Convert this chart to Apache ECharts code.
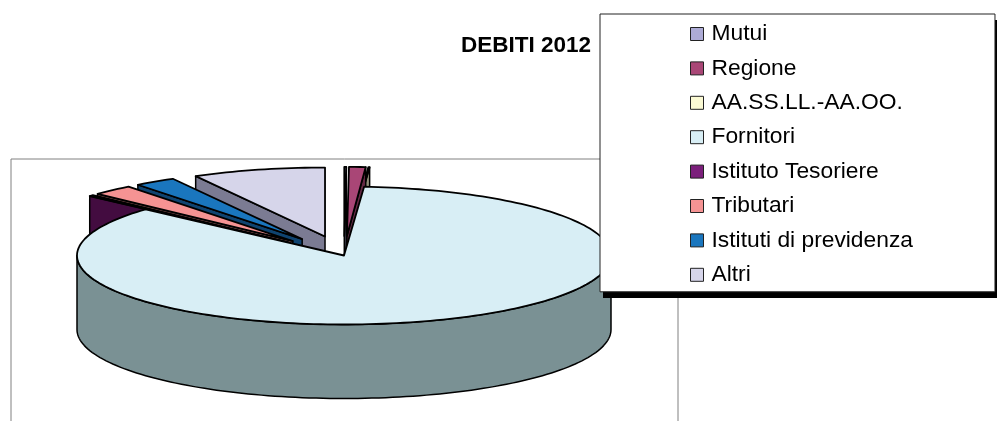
<!DOCTYPE html>
<html><head><meta charset="utf-8">
<style>html,body{margin:0;padding:0;background:#fff}#c{width:997px;height:421px}</style>
<script src="https://cdn.jsdelivr.net/npm/echarts@6/dist/echarts.min.js"></script>
</head><body><div id="c"></div>
<script>
var categories = ['Mutui','Regione','AA.SS.LL.-AA.OO.','Fornitori','Istituto Tesoriere','Tributari','Istituti di previdenza','Altri'];
var values = [0.12,1.0,0.08,85.47,0.28,2.5,2.5,8.05];
var exploded = [1,1,1,0,1,1,1,1];
var colors = ['#ADABD6','#A94676','#FBFAD4','#D8EEF5','#7B1F7B','#F59393','#1A76BE','#D6D5EA'];
var wallColors = ['#64637C','#632944','#90907A','#7A9194','#430C40','#8A5453','#0F4370','#7B7B93'];
var drawOrder = [7,6,5,4,0,2,1,3];

var cx=344, cy=255.5, rx=267, ry=69, depth=74, explode=0.284;
var total = values.reduce(function(a,b){return a+b;},0);
var rad = Math.PI/180;
function bounds(i){var s=0;for(var k=0;k<i;k++)s+=values[k];return [s/total*360,(s+values[i])/total*360];}
function rim(o,a){return [o[0]+rx*Math.sin(a*rad),o[1]-ry*Math.cos(a*rad)];}
function arc(o,a0,a1){var n=Math.max(2,Math.ceil(Math.abs(a1-a0)/1.5)),p=[];for(var k=0;k<=n;k++)p.push(rim(o,a0+(a1-a0)*k/n));return p;}
function down(p){return [p[0],p[1]+depth];}

function renderSlice(i){
  return function(params,api){
    var b=bounds(i),mid=(b[0]+b[1])/2,e=exploded[i]?explode:0;
    var o=[cx+rx*e*Math.sin(mid*rad),cy-ry*e*Math.cos(mid*rad)];
    var wall={fill:wallColors[i],stroke:'#000',lineWidth:1.5,lineJoin:'round'};
    var top={fill:colors[i],stroke:'#000',lineWidth:1.8,lineJoin:'round'};
    var kids=[];
    function poly(pts,st){kids.push({type:'polygon',shape:{points:pts},style:st});}
    if(Math.sin(b[0]*rad)<0){var r0=rim(o,b[0]);poly([o,r0,down(r0),down(o)],wall);}
    if(Math.sin(b[1]*rad)>0){var r1=rim(o,b[1]);poly([o,r1,down(r1),down(o)],wall);}
    var f=Math.max(b[0],90),t=Math.min(b[1],270);
    if(t>f){var ar=arc(o,f,t);poly(ar.concat(ar.map(down).reverse()),wall);}
    poly([o].concat(arc(o,b[0],b[1])),top);
    return {type:'group',children:kids};
  };
}

var series = drawOrder.map(function(i,n){
  return {type:'custom',name:categories[i],coordinateSystem:'none',z:2+n*0.01,silent:true,
    itemStyle:{color:colors[i]},data:[values[i]],renderItem:renderSlice(i),animation:false};
});

var chart = echarts.init(document.getElementById('c'),null,{renderer:'canvas'});
chart.setOption({
  animation:false,
  backgroundColor:'#fff',
  title:{text:'DEBITI 2012',left:461,top:34,padding:0,z:5,
    textStyle:{fontFamily:'Liberation Sans',fontWeight:'bold',fontSize:22.5,color:'#000'}},
  legend:{
    data:categories,orient:'vertical',left:600,top:14,z:4,
    padding:[8.5,82,5.5,90],itemGap:11.4,itemWidth:13,itemHeight:13,icon:'rect',selectedMode:false,
    backgroundColor:'#fff',borderColor:'#222',borderWidth:1,
    itemStyle:{borderColor:'#222',borderWidth:1},
    textStyle:{fontFamily:'Liberation Sans',fontSize:22.8,color:'#000',padding:[0,0,0,3],lineHeight:23}
  },
  graphic:[
    {type:'polyline',z:0,silent:true,shape:{points:[[11,421],[11,159],[678,159],[678,421]]},style:{stroke:'#808080',lineWidth:1,fill:null}},
    {type:'rect',z:3,silent:true,shape:{x:603,y:20,width:394,height:278},style:{fill:'#000'}}
  ],
  series:series
});
</script></body></html>
